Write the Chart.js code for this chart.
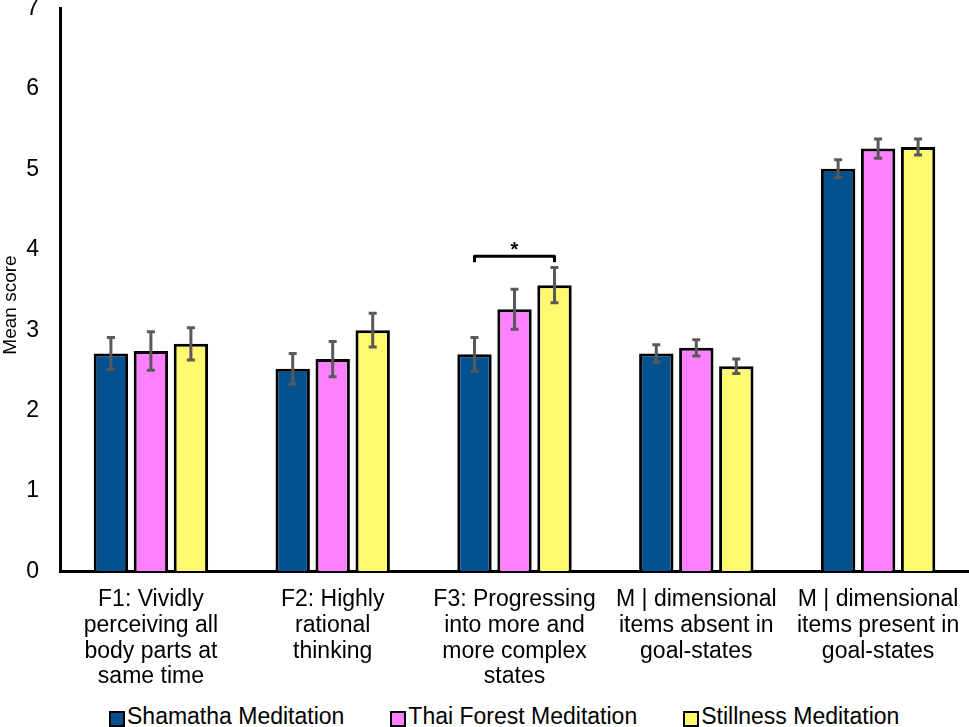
<!DOCTYPE html>
<html>
<head>
<meta charset="utf-8">
<script src="https://cdn.jsdelivr.net/npm/chart.js@4.4.1/dist/chart.umd.min.js"></script>
<style>
  html, body { margin: 0; padding: 0; background: #fff; overflow: hidden; }
  body { width: 969px; height: 727px; position: relative; }
  #wrap { position: absolute; left: 0; top: -18px; width: 969px; height: 716px; }
  #legend {
    position: absolute; left: 109px; top: 705px;
    display: flex; gap: 46px;
    font-family: "Liberation Sans", Arial, sans-serif; font-size: 23px; line-height: 23px; color: #000;
  }
  #legend .item { display: flex; align-items: flex-start; white-space: nowrap; }
  #legend .box { width: 12px; height: 12px; border: 2.5px solid #000; margin-top: 6px; margin-right: 2px; }
</style>
</head>
<body>
<div id="wrap"><canvas id="meanChart"></canvas></div>
<div id="legend"></div>
<script>
// Categorías (etiquetas del eje X, en varias líneas)
const categories = [
    ['F1: Vividly', 'perceiving all', 'body parts at', 'same time'],
    ['F2: Highly', 'rational', 'thinking'],
    ['F3: Progressing', 'into more and', 'more complex', 'states'],
    ['M | dimensional', 'items absent in', 'goal-states'],
    ['M | dimensional', 'items present in', 'goal-states']
];

// Series
const seriesNames = ['Shamatha Meditation', 'Thai Forest Meditation', 'Stillness Meditation'];
const seriesColors = ['#03518F', '#FF80FF', '#FFF96F'];

// Medias por grupo
const shamathaMeans = [2.71, 2.52, 2.70, 2.71, 5.01];
const thaiForestMeans = [2.74, 2.64, 3.26, 2.78, 5.26];
const stillnessMeans = [2.83, 3.00, 3.56, 2.55, 5.28];

// Errores estándar
const shamathaErr = [0.20, 0.19, 0.21, 0.11, 0.11];
const thaiForestErr = [0.24, 0.22, 0.25, 0.10, 0.12];
const stillnessErr = [0.20, 0.21, 0.22, 0.09, 0.10];

// Marcas del eje Y
const yTicks = [0, 1, 2, 3, 4, 5, 6, 7];
const yTitle = 'Mean score';

// Corchete de significancia: categoría, serie inicial, serie final, altura
const sigCategory = 2;
const sigFrom = 0;
const sigTo = 2;
const sigLevel = 3.92;
const sigLabel = '*';

const means = [shamathaMeans, thaiForestMeans, stillnessMeans];
const errors = [shamathaErr, thaiForestErr, stillnessErr];

// Plugin para dibujar barras de error, el corchete y el título del eje Y
const errorBarsPlugin = {
    id: 'errorBars',
    afterDatasetsDraw(chart) {
        const ctx = chart.ctx;
        const yScale = chart.scales.y;
        ctx.save();
        ctx.strokeStyle = '#595959';
        ctx.lineWidth = 3;
        chart.data.datasets.forEach((ds, i) => {
            const meta = chart.getDatasetMeta(i);
            meta.data.forEach((bar, j) => {
                const v = ds.data[j];
                const e = errors[i][j];
                const top = yScale.getPixelForValue(v + e);
                const bottom = yScale.getPixelForValue(v - e);
                ctx.beginPath();
                ctx.moveTo(bar.x, top);
                ctx.lineTo(bar.x, bottom);
                ctx.moveTo(bar.x - 4, top);
                ctx.lineTo(bar.x + 4, top);
                ctx.moveTo(bar.x - 4, bottom);
                ctx.lineTo(bar.x + 4, bottom);
                ctx.stroke();
            });
        });

        // Corchete
        const x1 = chart.getDatasetMeta(sigFrom).data[sigCategory].x;
        const x2 = chart.getDatasetMeta(sigTo).data[sigCategory].x;
        const y = yScale.getPixelForValue(sigLevel);
        ctx.strokeStyle = '#000';
        ctx.lineWidth = 3;
        ctx.lineJoin = 'round';
        ctx.beginPath();
        ctx.moveTo(x1, y + 6);
        ctx.lineTo(x1, y);
        ctx.lineTo(x2, y);
        ctx.lineTo(x2, y + 6);
        ctx.stroke();
        ctx.fillStyle = '#000';
        ctx.font = 'bold 20px "Liberation Sans", Arial, sans-serif';
        ctx.textAlign = 'center';
        ctx.textBaseline = 'middle';
        ctx.fillText(sigLabel, (x1 + x2) / 2, y - 6);

        // Título del eje Y (algo por debajo del centro, como en el original)
        const area = chart.chartArea;
        ctx.translate(11, (area.top + area.bottom) / 2 + 15);
        ctx.rotate(-Math.PI / 2);
        ctx.font = '19px "Liberation Sans", Arial, sans-serif';
        ctx.fillText(yTitle, 0, 0);
        ctx.restore();
    }
};

Chart.defaults.font.family = '"Liberation Sans", Arial, sans-serif';
Chart.defaults.color = '#000';

const ctx = document.getElementById('meanChart').getContext('2d');
new Chart(ctx, {
    type: 'bar',
    data: {
        labels: categories,
        datasets: seriesNames.map((name, i) => ({
            label: name,
            data: means[i],
            backgroundColor: seriesColors[i],
            borderColor: '#000000',
            borderWidth: 3,
            categoryPercentage: 0.66,
            barPercentage: 0.86
        }))
    },
    options: {
        responsive: true,
        maintainAspectRatio: false,
        animation: false,
        layout: { padding: 0 },
        plugins: {
            legend: { display: false },
            tooltip: { enabled: false }
        },
        scales: {
            x: {
                grid: { display: false },
                border: { color: '#000', width: 3 },
                ticks: {
                    font: { size: 23, lineHeight: '25.7px' },
                    color: '#000',
                    maxRotation: 0,
                    autoSkip: false,
                    padding: 8
                }
            },
            y: {
                min: yTicks[0],
                max: yTicks[yTicks.length - 1],
                grid: { display: false },
                border: { color: '#000', width: 3 },
                afterBuildTicks(scale) {
                    scale.ticks = yTicks.map(v => ({ value: v }));
                },
                afterFit(scale) {
                    scale.width = 60;
                },
                ticks: {
                    font: { size: 23 },
                    color: '#000',
                    padding: 13
                },
                title: { display: false }
            }
        }
    },
    plugins: [errorBarsPlugin]
});

// Leyenda en HTML
const legendEl = document.getElementById('legend');
seriesNames.forEach((name, i) => {
    const item = document.createElement('div');
    item.className = 'item';
    const box = document.createElement('span');
    box.className = 'box';
    box.style.background = seriesColors[i];
    const txt = document.createElement('span');
    txt.textContent = name;
    item.appendChild(box);
    item.appendChild(txt);
    legendEl.appendChild(item);
});
</script>
</body>
</html>
